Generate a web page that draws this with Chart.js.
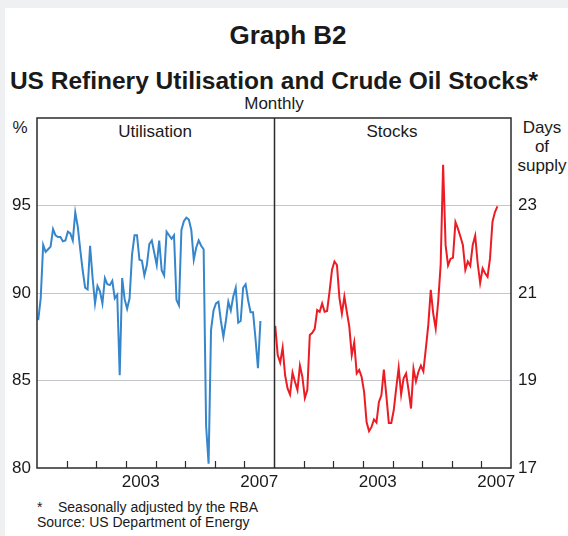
<!DOCTYPE html>
<html>
<head>
<meta charset="utf-8">
<script src="https://cdn.jsdelivr.net/npm/chart.js@4.4.1/dist/chart.umd.min.js"></script>
<style>
  html, body { margin:0; padding:0; }
  body { width:568px; height:536px; background:#eff0f2; position:relative; overflow:hidden;
         font-family:"Liberation Sans", Arial, Helvetica, sans-serif; color:#1a1a1a; }
  #card { position:absolute; left:5px; top:8px; right:0; bottom:0; background:#fff; }
  #wrap { position:absolute; left:0; top:0; width:568px; height:536px; }
  .t { position:absolute; white-space:nowrap; }
</style>
</head>
<body>
<div id="card"></div>
<div class="t" id="g" style="left:0;width:576px;text-align:center;top:22px;font-size:26px;line-height:26px;font-weight:bold;">Graph B2</div>
<div class="t" style="left:0;width:548px;text-align:center;top:69px;font-size:24.5px;line-height:24.5px;font-weight:bold;">US Refinery Utilisation and Crude Oil Stocks*</div>
<div class="t" style="left:174px;width:200px;text-align:center;top:95px;font-size:17px;line-height:17px;">Monthly</div>
<div class="t" style="left:55px;width:200px;text-align:center;top:123px;font-size:17px;line-height:17px;">Utilisation</div>
<div class="t" style="left:292px;width:200px;text-align:center;top:123px;font-size:17px;line-height:17px;">Stocks</div>
<div class="t" style="left:0;width:40px;text-align:center;top:119px;font-size:17px;line-height:17px;">%</div>
<div class="t" style="left:512px;width:60px;text-align:center;top:118px;font-size:17px;line-height:19px;">Days<br>of<br>supply</div>
<div class="t" style="left:37px;top:500px;font-size:14px;line-height:14px;">*</div>
<div class="t" style="left:58px;top:500px;font-size:14px;line-height:14px;">Seasonally adjusted by the RBA</div>
<div class="t" style="left:37px;top:515px;font-size:14px;line-height:14px;">Source: US Department of Energy</div>
<div id="wrap"><canvas id="c" width="568" height="536"></canvas></div>
<script>
// ---- data ----
const startYear = 2000;
const panelYears = 8;
const yearLabels = ['2003', '2007'];
const leftTicks = [80, 85, 90, 95];
const rightTicks = [17, 19, 21, 23];
// US refinery utilisation, %, monthly from Jan 2000
const utilisation = [
  88.45, 89.7, 92.75, 92.35, 92.5, 92.65, 93.65, 93.3, 93.2, 93.2, 92.95, 93.0,
  93.5, 93.4, 93.0, 94.6, 93.8, 92.5, 91.3, 90.3, 90.2, 92.7, 90.9, 89.4,
  90.4, 90.1, 89.4, 90.85, 90.5, 90.45, 90.7, 89.7, 89.9, 85.3, 90.85, 89.65,
  89.1, 89.7, 92.2, 93.3, 93.3, 91.9, 91.85, 91.0, 91.6, 92.8, 93.0, 92.3,
  91.6, 93.0, 91.3, 91.0, 93.5, 93.3, 93.1, 93.3, 89.6, 89.3, 93.6, 94.1,
  94.3, 94.2, 93.6, 91.9, 92.6, 93.0, 92.7, 92.5, 82.4, 80.25, 87.9, 89.0,
  89.4, 89.5, 88.4, 87.5, 88.4, 89.5, 89.0, 89.8, 90.3, 88.3, 88.4, 90.3,
  90.5, 89.6, 88.9, 88.9, 87.4, 85.7, 88.4
];
// US crude oil stocks, days of supply, monthly from Jan 2000
const stocks = [
  20.25, 19.58, 19.41, 19.75, 19.12, 18.82, 18.68, 19.18, 18.97, 18.78, 19.34, 19.08,
  18.60, 18.78, 20.04, 20.09, 20.18, 20.61, 20.57, 20.76, 20.57, 20.59, 21.03, 21.53,
  21.72, 21.64, 20.89, 20.53, 20.92, 20.57, 20.23, 19.58, 19.87, 19.16, 19.24, 19.08,
  18.74, 18.05, 17.84, 17.94, 18.11, 18.04, 18.51, 18.66, 19.25, 18.66, 18.03, 18.03,
  18.32, 18.82, 19.29, 18.68, 19.05, 19.16, 18.78, 18.36, 19.27, 18.98, 19.20, 19.34,
  19.21, 19.73, 20.27, 21.07, 20.53, 20.19, 20.80, 21.64, 23.93, 22.10, 21.63, 21.78,
  21.81, 22.62, 22.47, 22.29, 22.10, 21.53, 21.72, 21.62, 22.10, 22.31, 21.68, 21.23,
  21.56, 21.45, 21.37, 21.79, 22.63, 22.85, 22.98
];

const FONT = '"Liberation Sans", Arial, Helvetica, sans-serif';
const TEXT = '#1a1a1a';
const GRID = '#c3c6ca';
const FRAME = '#2b2b2b';

const framePlugin = {
  id: 'frame',
  afterDatasetsDraw(chart) {
    const {ctx, chartArea: a, scales} = chart;
    const x = scales.x;
    ctx.save();
    ctx.strokeStyle = FRAME;
    ctx.lineWidth = 1.5;
    ctx.strokeRect(a.left, a.top, a.right - a.left, a.bottom - a.top);
    const xd = Math.round(x.getPixelForValue(panelYears)) + 0.5;
    ctx.beginPath();
    ctx.moveTo(xd, a.top); ctx.lineTo(xd, a.bottom);
    ctx.stroke();
    ctx.lineWidth = 1.2;
    ctx.beginPath();
    for (let yr = 1; yr < 2 * panelYears; yr++) {
      if (yr === panelYears) continue;
      const px = Math.round(x.getPixelForValue(yr)) + 0.5;
      ctx.moveTo(px, a.bottom); ctx.lineTo(px, a.bottom - 7);
    }
    ctx.stroke();
    ctx.restore();
  }
};

new Chart(document.getElementById('c'), {
  type: 'line',
  data: {
    datasets: [
      {
        label: 'Utilisation',
        data: utilisation.map((v, i) => ({x: (i + 0.5) / 12, y: v})),
        yAxisID: 'y',
        borderColor: '#3686cc',
        borderWidth: 2,
        pointRadius: 0,
        tension: 0
      },
      {
        label: 'Stocks',
        data: stocks.map((v, i) => ({x: panelYears + (i + 0.5) / 12, y: v})),
        yAxisID: 'y2',
        borderColor: '#ec1c24',
        borderWidth: 2,
        pointRadius: 0,
        tension: 0
      }
    ]
  },
  options: {
    responsive: false,
    animation: false,
    events: [],
    layout: { padding: { top: 118, left: 0, right: 0, bottom: 0 } },
    plugins: { legend: { display: false }, title: { display: false }, tooltip: { enabled: false } },
    scales: {
      x: {
        type: 'linear',
        min: 0,
        max: 2 * panelYears,
        afterBuildTicks(s) {
          s.ticks = [3.5, 7.5, 3.5 + panelYears, 7.5 + panelYears].map(v => ({value: v}));
        },
        afterFit(s) { s.height = 68; },
        grid: { display: false, drawTicks: false },
        border: { display: false },
        ticks: {
          autoSkip: false,
          maxRotation: 0,
          padding: 4,
          color: TEXT,
          font: { family: FONT, size: 17 },
          callback(v) {
            const yr = String(startYear + Math.floor(v % panelYears));
            return yearLabels.includes(yr) ? yr : '';
          }
        }
      },
      y: {
        type: 'linear',
        position: 'left',
        min: 80,
        max: 100,
        afterBuildTicks(s) { s.ticks = leftTicks.concat([100]).map(v => ({value: v})); },
        afterFit(s) { s.width = 37; },
        grid: {
          drawTicks: false,
          lineWidth: 1,
          color: c => (c.tick && c.tick.value > 80 && c.tick.value < 100) ? GRID : 'rgba(0,0,0,0)'
        },
        border: { display: false },
        ticks: {
          padding: 6,
          color: TEXT,
          font: { family: FONT, size: 17 },
          callback: v => leftTicks.includes(v) ? String(v) : ''
        }
      },
      y2: {
        type: 'linear',
        position: 'right',
        min: 17,
        max: 25,
        afterBuildTicks(s) { s.ticks = rightTicks.concat([25]).map(v => ({value: v})); },
        afterFit(s) { s.width = 57; },
        grid: { display: false, drawTicks: false },
        border: { display: false },
        ticks: {
          padding: 7,
          color: TEXT,
          font: { family: FONT, size: 17 },
          callback: v => rightTicks.includes(v) ? String(v) : ''
        }
      }
    }
  },
  plugins: [framePlugin]
});
</script>
</body>
</html>
